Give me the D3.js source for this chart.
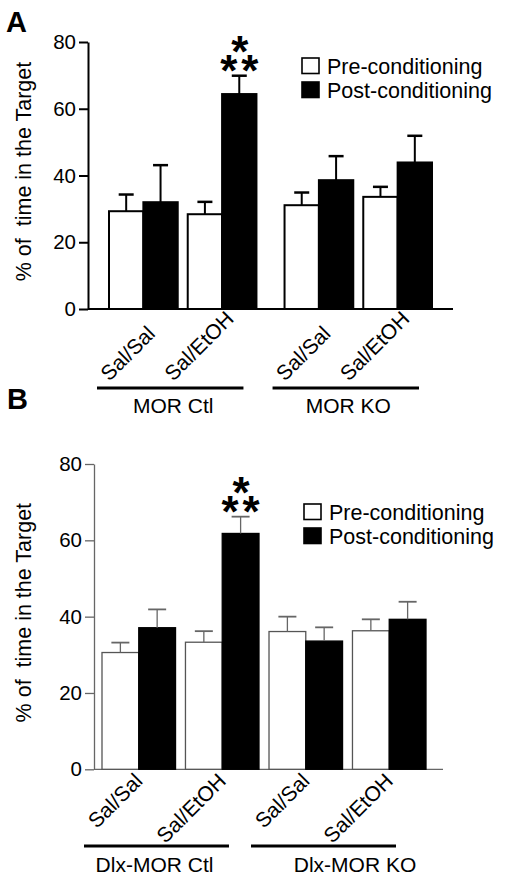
<!DOCTYPE html>
<html><head><meta charset="utf-8">
<script src="https://cdn.jsdelivr.net/npm/d3@7"></script>
<style>body{margin:0;background:#fff} text{font-family:Arial,"Liberation Sans",sans-serif;fill:#000}</style>
</head><body><svg id="c" width="509" height="883"></svg>
<script>
// ---------- data ----------
const conditions = ["Sal/Sal", "Sal/EtOH"];
const series = ["Pre-conditioning", "Post-conditioning"];
const yTicks = [0, 20, 40, 60, 80];

const genotypesA = ["MOR Ctl", "MOR KO"];
const preA = [29.3, 28.4, 31.1, 33.6];
const preSemA = [5.0, 3.7, 3.8, 3.0];
const postA = [32.0, 64.4, 38.6, 43.9];
const postSemA = [11.1, 5.5, 7.2, 8.0];
const starsA = [0, 3, 0, 0];

const genotypesB = ["Dlx-MOR Ctl", "Dlx-MOR KO"];
const preB = [30.6, 33.3, 36.1, 36.3];
const preSemB = [2.6, 2.9, 3.9, 3.0];
const postB = [37.1, 61.8, 33.6, 39.3];
const postSemB = [4.8, 4.4, 3.6, 4.6];
const starsB = [0, 3, 0, 0];

// ---------- layout ----------
const panels = [
  {letter: "A", letterX: 6, letterY: 32, genotypes: genotypesA, pre: preA, preSem: preSemA, post: postA, postSem: postSemA, stars: starsA,
   yTop: 42, yBottom: 309, axisX: 88, xEnd: 453, barRange: [109, 432], outerPad: 0.16, innerPad: 0.127,
   line: "#000", lineW: 2, barLine: "#000", capW: 15, labelMode: "start", labelDx: 13, labelDy: 73,
   ulY: 388, ulOff: [-12, -13], glY: 413, glDx: [-9.5, -10], legX: 302, legY: 58, titleX: 31},
  {letter: "B", letterX: 7, letterY: 409, genotypes: genotypesB, pre: preB, preSem: preSemB, post: postB, postSem: postSemB, stars: starsB,
   yTop: 464, yBottom: 769.3, axisX: 94, xEnd: 443, barRange: [102, 426], outerPad: 0.06, innerPad: 0.119,
   line: "#666", lineW: 1.3, barLine: "#555", capW: 18, labelMode: "end", labelDx: 5, labelDy: 13,
   ulY: 846, ulOff: [-18, -30], glY: 872, glDx: [-26, 7.5], legX: 304, legY: 504, titleX: 31}
];

const svg = d3.select("#c");

panels.forEach(p => {
  const g = svg.append("g");
  const y = d3.scaleLinear().domain([0, 80]).range([p.yBottom, p.yTop]);
  const xG = d3.scaleBand().domain(p.genotypes).range(p.barRange).paddingInner(p.outerPad).paddingOuter(0);
  const xC = d3.scaleBand().domain(conditions).range([0, xG.bandwidth()]).paddingInner(p.innerPad).paddingOuter(0);
  const xS = d3.scaleBand().domain(series).range([0, xC.bandwidth()]).padding(0);

  const recs = [];
  p.genotypes.forEach((gt, gi) => conditions.forEach((c, ci) => {
    const i = gi * 2 + ci;
    recs.push({gt, c, s: series[0], v: p.pre[i], e: p.preSem[i], stars: 0});
    recs.push({gt, c, s: series[1], v: p.post[i], e: p.postSem[i], stars: p.stars[i]});
  }));
  const bx = d => xG(d.gt) + xC(d.c) + xS(d.s);
  const cx = d => bx(d) + xS.bandwidth() / 2;

  // panel letter
  g.append("text").attr("x", p.letterX).attr("y", p.letterY).attr("font-size", 29).attr("font-weight", "bold").text(p.letter);

  // y axis
  const ax = g.append("g").attr("transform", `translate(${p.axisX},0)`)
    .call(d3.axisLeft(y).tickValues(yTicks).tickSize(9).tickSizeOuter(0).tickPadding(3));
  ax.selectAll("path,line").attr("stroke", p.line).attr("stroke-width", p.lineW);
  ax.selectAll("text").attr("font-size", 20.5).attr("font-family", "Arial, 'Liberation Sans', sans-serif").attr("fill", "#000");

  // x axis line
  g.append("line").attr("x1", p.axisX).attr("x2", p.xEnd).attr("y1", y(0)).attr("y2", y(0))
    .attr("stroke", p.line).attr("stroke-width", p.lineW);

  // y title
  g.append("text").attr("transform", `translate(${p.titleX},${(y(0) + y(80)) / 2 - 4}) rotate(-90)`)
    .attr("text-anchor", "middle").attr("font-size", 21.5).style("white-space", "pre")
    .text("% of  time in the Target");

  // bars
  g.selectAll("rect.bar").data(recs).join("rect").attr("class", "bar")
    .attr("x", bx).attr("width", xS.bandwidth())
    .attr("y", d => y(d.v)).attr("height", d => y(0) - y(d.v))
    .attr("fill", d => d.s === series[0] ? "#fff" : "#000")
    .attr("stroke", d => d.s === series[0] ? p.barLine : "#000")
    .attr("stroke-width", p.lineW);

  // error bars
  const eg = g.selectAll("g.err").data(recs).join("g").attr("class", "err");
  eg.append("line").attr("x1", cx).attr("x2", cx).attr("y1", d => y(d.v)).attr("y2", d => y(d.v + d.e))
    .attr("stroke", p.line).attr("stroke-width", p.lineW);
  eg.append("line").attr("x1", d => cx(d) - p.capW / 2).attr("x2", d => cx(d) + p.capW / 2)
    .attr("y1", d => y(d.v + d.e)).attr("y2", d => y(d.v + d.e))
    .attr("stroke", p.line).attr("stroke-width", p.lineW + 0.5);

  // significance stars (one text element, two lines)
  recs.filter(d => d.stars === 3).forEach(d => {
    const top = y(d.v + d.e);
    const st = g.append("text").attr("font-size", 44).attr("font-weight", "bold").attr("text-anchor", "middle");
    st.append("tspan").attr("x", cx(d) + 0.5).attr("y", top - 32.5 + 24).text("*");
    st.append("tspan").attr("x", cx(d) + 2).attr("y", top - 13.5 + 24).attr("letter-spacing", 4).text("**");
  });

  // x category labels
  const labs = [];
  p.genotypes.forEach(gt => conditions.forEach(c => labs.push({gt, c})));
  labs.forEach(d => {
    const center = xG(d.gt) + xC(d.c) + xC.bandwidth() / 2;
    const t = g.append("text").attr("font-size", 21).text(d.c);
    if (p.labelMode === "start") {
      const L = t.node().getComputedTextLength();
      const sx = center + p.labelDx - L * Math.SQRT1_2;
      t.attr("text-anchor", "start").attr("transform", `translate(${sx},${y(0) + p.labelDy}) rotate(-45)`);
    } else {
      t.attr("text-anchor", "end").attr("transform", `translate(${center + p.labelDx},${y(0) + p.labelDy}) rotate(-45)`);
    }
  });

  // genotype underlines + labels
  p.genotypes.forEach((gt, gi) => {
    const x0 = xG(gt) + p.ulOff[0], x1 = xG(gt) + xG.bandwidth() + p.ulOff[1];
    g.append("line").attr("x1", x0).attr("x2", x1).attr("y1", p.ulY).attr("y2", p.ulY)
      .attr("stroke", "#000").attr("stroke-width", 3);
    g.append("text").attr("x", xG(gt) + xG.bandwidth() / 2 + p.glDx[gi]).attr("y", p.glY)
      .attr("text-anchor", "middle").attr("font-size", 21).text(gt);
  });

  // legend
  const lg = g.append("g").attr("transform", `translate(${p.legX},${p.legY})`);
  series.forEach((s, i) => {
    lg.append("rect").attr("x", 0).attr("y", i * 24).attr("width", 17).attr("height", 15.5)
      .attr("fill", i === 0 ? "#fff" : "#000").attr("stroke", "#000").attr("stroke-width", 1.6);
    lg.append("text").attr("x", 25).attr("y", i * 24 + 15.5).attr("font-size", 21.5).text(s);
  });
});
</script></body></html>
